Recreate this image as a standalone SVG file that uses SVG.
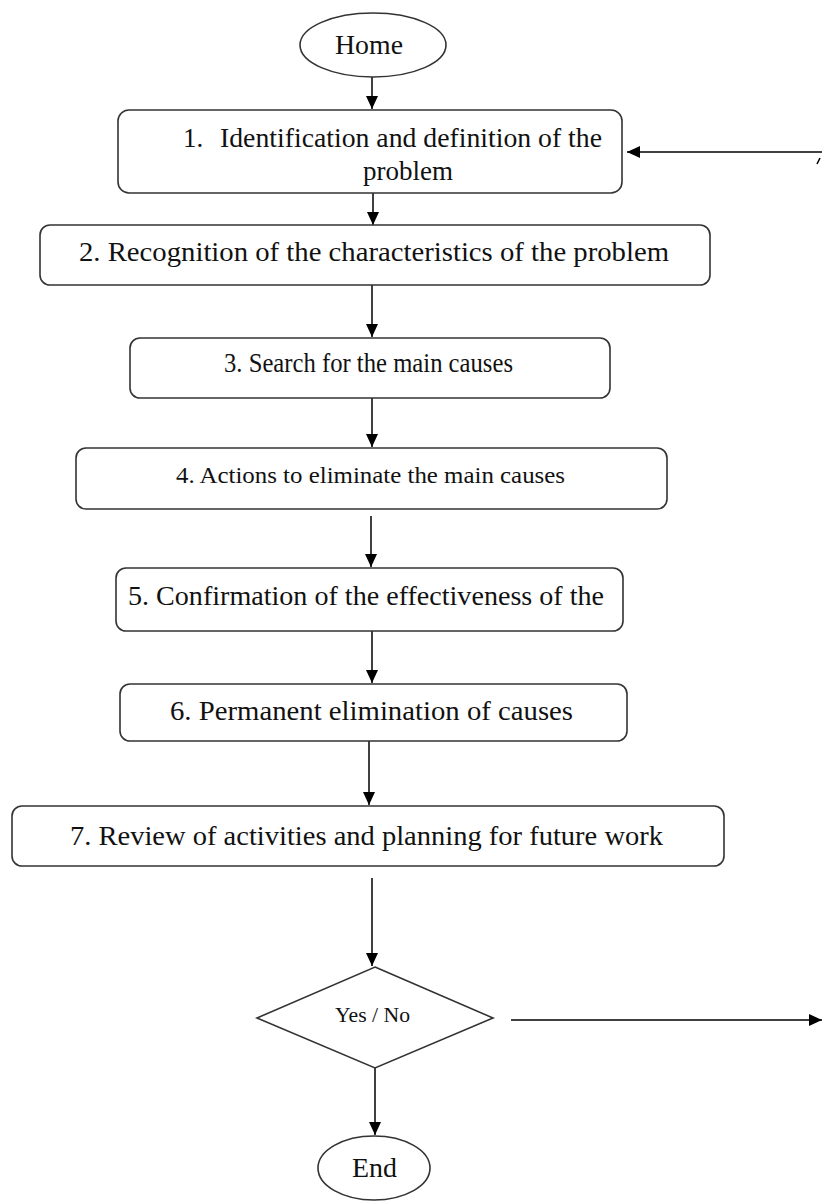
<svg xmlns="http://www.w3.org/2000/svg" width="822" height="1201" viewBox="0 0 822 1201">
<style>
.box{fill:#fff;stroke:#333;stroke-width:1.6}
.t{font-family:"Liberation Serif","Times New Roman",serif;fill:#111}
.ln{stroke:#000;stroke-width:1.5;fill:none}
</style>
<defs>
<marker id="ah" markerUnits="userSpaceOnUse" markerWidth="14" markerHeight="12" refX="13" refY="6" orient="auto">
<path d="M0,0 L13,6 L0,12 z" fill="#000"/>
</marker>
</defs>
<rect width="822" height="1201" fill="#fff"/>
<g id="connectors">
<line class="ln" x1="372" y1="77" x2="372" y2="109" marker-end="url(#ah)"/>
<line class="ln" x1="373" y1="193" x2="373" y2="225" marker-end="url(#ah)"/>
<line class="ln" x1="372" y1="285" x2="372" y2="337" marker-end="url(#ah)"/>
<line class="ln" x1="372" y1="398" x2="372" y2="447" marker-end="url(#ah)"/>
<line class="ln" x1="371" y1="516" x2="371" y2="567" marker-end="url(#ah)"/>
<line class="ln" x1="372" y1="631" x2="372" y2="683" marker-end="url(#ah)"/>
<line class="ln" x1="369" y1="741" x2="369" y2="805" marker-end="url(#ah)"/>
<line class="ln" x1="372" y1="878" x2="372" y2="966" marker-end="url(#ah)"/>
<line class="ln" x1="375" y1="1068" x2="375" y2="1135" marker-end="url(#ah)"/>
<line class="ln" x1="511" y1="1020" x2="822" y2="1020" marker-end="url(#ah)"/>
<line class="ln" x1="823" y1="152" x2="627" y2="152" marker-end="url(#ah)"/>
<path class="ln" d="M817,164 L820,158" stroke-width="1.2"/>
</g>
<g id="home">
<ellipse class="box" cx="373" cy="45" rx="73" ry="32"/>
<text class="t" x="335" y="54" font-size="27" textLength="68" lengthAdjust="spacingAndGlyphs">Home</text>
</g>
<g id="step1">
<rect class="box" x="118" y="110" width="504" height="83" rx="11"/>
<text class="t" x="183" y="147" font-size="27">1.</text>
<text class="t" x="220" y="147" font-size="27" textLength="382" lengthAdjust="spacingAndGlyphs">Identification and definition of the</text>
<text class="t" x="363" y="180" font-size="27" textLength="90" lengthAdjust="spacingAndGlyphs">problem</text>
</g>
<g id="step2">
<rect class="box" x="40" y="225" width="670" height="60" rx="10"/>
<text class="t" x="79" y="261" font-size="28" textLength="590" lengthAdjust="spacingAndGlyphs">2. Recognition of the characteristics of the problem</text>
</g>
<g id="step3">
<rect class="box" x="130" y="338" width="480" height="60" rx="10"/>
<text class="t" x="224" y="372" font-size="27" textLength="289" lengthAdjust="spacingAndGlyphs">3. Search for the main causes</text>
</g>
<g id="step4">
<rect class="box" x="76" y="448" width="591" height="61" rx="10"/>
<text class="t" x="176" y="483" font-size="24" textLength="389" lengthAdjust="spacingAndGlyphs">4. Actions to eliminate the main causes</text>
</g>
<g id="step5">
<rect class="box" x="116" y="568" width="507" height="63" rx="10"/>
<text class="t" x="128" y="605" font-size="28" textLength="476" lengthAdjust="spacingAndGlyphs">5. Confirmation of the effectiveness of the</text>
</g>
<g id="step6">
<rect class="box" x="120" y="684" width="507" height="57" rx="10"/>
<text class="t" x="170" y="720" font-size="28" textLength="403" lengthAdjust="spacingAndGlyphs">6. Permanent elimination of causes</text>
</g>
<g id="step7">
<rect class="box" x="12" y="806" width="712" height="60" rx="10"/>
<text class="t" x="70" y="845" font-size="28" textLength="593" lengthAdjust="spacingAndGlyphs">7. Review of activities and planning for future work</text>
</g>
<g id="decision">
<polygon class="box" points="375,967 493,1018 375,1068 257,1018"/>
<text class="t" x="335" y="1022" font-size="21" textLength="75" lengthAdjust="spacingAndGlyphs">Yes / No</text>
</g>
<g id="end">
<ellipse class="box" cx="374" cy="1168" rx="56" ry="32"/>
<text class="t" x="352" y="1177" font-size="27" textLength="45" lengthAdjust="spacingAndGlyphs">End</text>
</g>
</svg>
